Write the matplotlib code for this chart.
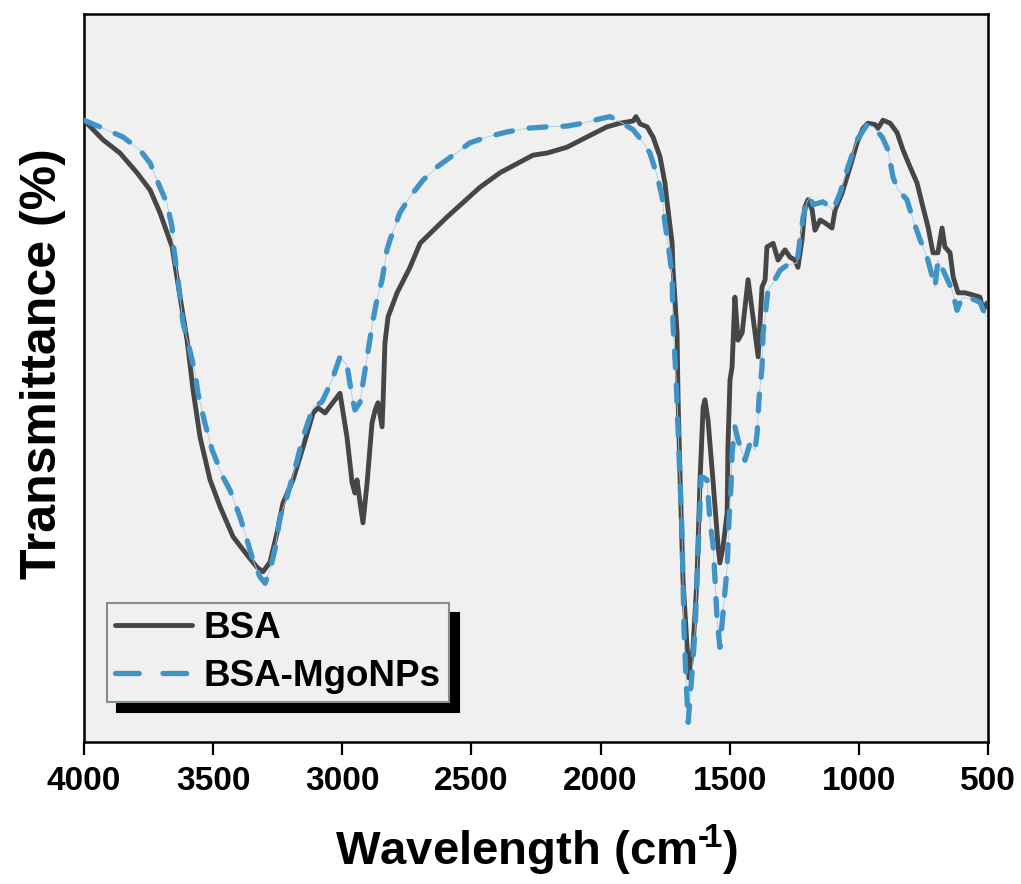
import numpy as np
import matplotlib
matplotlib.use("Agg")
import matplotlib.pyplot as plt

plt.rcParams['font.family'] = ['Liberation Sans', 'DejaVu Sans']
plt.rcParams['font.weight'] = 'bold'
plt.rcParams['mathtext.fontset'] = 'custom'
plt.rcParams['mathtext.rm'] = 'Liberation Sans:bold'
plt.rcParams['mathtext.bf'] = 'Liberation Sans:bold'

# BSA spectrum (wavenumber cm-1, transmittance a.u.)
bsa_wn = [4000, 3926, 3861, 3795, 3744, 3706, 3659, 3628, 3601, 3578, 3551,
          3512, 3473, 3423, 3369, 3330, 3307, 3280, 3253, 3230, 3191, 3152,
          3113, 3094, 3067, 3020, 3009, 2982, 2962, 2951, 2943, 2931, 2920,
          2904, 2885, 2873, 2862, 2846, 2842, 2835, 2823, 2788, 2738, 2699,
          2595, 2467, 2389, 2262, 2207, 2130, 2053, 1975, 1925, 1874, 1863,
          1847, 1820, 1797, 1770, 1751, 1739, 1723, 1720, 1704, 1700, 1692,
          1681, 1665, 1658, 1642, 1627, 1615, 1603, 1596, 1584, 1565, 1545,
          1538, 1526, 1510, 1507, 1499, 1491, 1480, 1468, 1452, 1429, 1410,
          1390, 1375, 1363, 1356, 1332, 1313, 1286, 1267, 1247, 1236, 1220,
          1209, 1197, 1181, 1170, 1150, 1131, 1104, 1092, 1065, 1034, 1007,
          984, 965, 937, 926, 907, 879, 852, 829, 802, 775, 752, 732, 713,
          694, 678, 667, 647, 635, 616, 589, 558, 531, 519, 504]
bsa_t = [85.4, 82.7, 80.9, 78.2, 75.8, 72.7, 68.0, 61.1, 55.2, 48.4, 41.9,
         36.0, 32.3, 28.2, 25.7, 24.0, 23.4, 24.7, 28.7, 32.8, 36.0, 40.5,
         45.2, 45.9, 45.2, 47.4, 47.9, 41.9, 35.6, 34.2, 36.0, 32.8, 30.1,
         35.6, 43.8, 45.6, 46.6, 43.3, 47.0, 54.8, 58.4, 61.7, 65.2, 68.5,
         72.1, 76.2, 78.2, 80.6, 80.9, 81.7, 83.1, 84.5, 85.0, 85.3, 85.9,
         84.9, 84.5, 83.1, 80.4, 76.8, 73.1, 68.5, 65.2, 56.2, 47.0, 36.0,
         22.3, 13.0, 8.8, 13.0, 22.3, 36.0, 46.0, 47.0, 44.2, 36.0, 26.8,
         24.6, 26.8, 31.5, 40.5, 49.7, 51.5, 61.1, 55.2, 56.2, 63.5, 58.4,
         52.9, 62.5, 63.5, 68.0, 68.5, 66.2, 67.6, 66.6, 66.2, 65.2, 69.0,
         73.5, 74.5, 73.1, 70.3, 71.7, 71.3, 70.6, 73.1, 75.4, 79.0, 82.3,
         84.3, 85.0, 84.8, 84.3, 85.4, 85.0, 83.7, 81.3, 79.0, 76.8, 73.5,
         70.7, 67.2, 67.2, 70.6, 68.0, 67.2, 63.9, 61.7, 61.7, 61.4, 61.1,
         59.3, 60.3]

# BSA-MgO NPs spectrum
np_wn = [4000, 3926, 3849, 3783, 3744, 3706, 3679, 3659, 3655, 3636, 3617,
         3597, 3570, 3559, 3532, 3504, 3462, 3435, 3396, 3377, 3346, 3319,
         3299, 3280, 3261, 3241, 3214, 3175, 3152, 3113, 3079, 3040, 3009,
         2982, 2962, 2951, 2931, 2920, 2900, 2881, 2866, 2846, 2827, 2815,
         2777, 2738, 2687, 2633, 2571, 2506, 2440, 2362, 2285, 2207, 2130,
         2068, 2002, 1963, 1925, 1874, 1836, 1809, 1782, 1762, 1751, 1739,
         1723, 1720, 1708, 1700, 1692, 1685, 1681, 1677, 1669, 1661, 1646,
         1634, 1627, 1619, 1611, 1600, 1588, 1576, 1565, 1557, 1549, 1538,
         1526, 1510, 1503, 1495, 1491, 1480, 1468, 1441, 1421, 1402, 1394,
         1387, 1375, 1371, 1363, 1352, 1332, 1305, 1278, 1240, 1228, 1216,
         1201, 1189, 1178, 1139, 1100, 1073, 1042, 1007, 968, 945, 910, 887,
         868, 848, 814, 790, 763, 736, 705, 694, 674, 639, 620, 601, 570,
         531, 504]
np_t = [85.4, 84.3, 83.1, 81.3, 79.5, 76.2, 74.0, 70.7, 68.5, 63.5, 57.6,
        54.8, 50.7, 47.9, 43.8, 40.1, 36.4, 34.6, 30.9, 28.7, 25.0, 22.7,
        21.8, 23.6, 26.4, 30.9, 33.7, 38.7, 41.9, 46.0, 46.7, 49.7, 52.9,
        51.8, 47.4, 45.6, 46.7, 49.3, 53.8, 58.0, 60.7, 63.5, 67.6, 69.0,
        72.7, 74.9, 77.2, 79.0, 80.6, 82.3, 83.1, 83.8, 84.3, 84.5, 84.6,
        85.0, 85.6, 85.9, 85.2, 84.1, 82.4, 80.9, 77.9, 74.9, 71.3, 68.5,
        64.1, 57.6, 50.1, 42.9, 36.0, 29.1, 22.3, 15.4, 8.5, 2.7, 9.5,
        15.4, 22.3, 29.1, 36.4, 36.3, 36.0, 30.1, 27.3, 22.3, 16.8, 13.0,
        17.7, 24.0, 30.5, 35.0, 39.7, 43.3, 41.5, 38.7, 41.1, 40.1, 42.4,
        47.0, 51.5, 56.2, 58.4, 62.1, 63.1, 64.8, 65.5, 65.8, 69.0, 72.1,
        74.2, 74.9, 73.8, 74.2, 73.1, 75.4, 79.0, 82.7, 84.8, 84.5, 83.1,
        81.3, 77.6, 75.8, 74.5, 71.7, 69.0, 66.6, 62.5, 66.2, 64.8, 62.1,
        59.3, 61.0, 61.0, 60.4, 58.2]

xticks = [4000, 3500, 3000, 2500, 2000, 1500, 1000, 500]

fig = plt.figure(figsize=(10.21, 8.84), dpi=100)
ax = fig.add_axes([0.0823, 0.1606, 0.8854, 0.8236])
ax.set_facecolor('#f0f0f0')

ax.plot(bsa_wn, bsa_t, color='#464646', lw=3.5, solid_joinstyle='round',
        solid_capstyle='round', label='BSA', zorder=3)
# thin guide line under the dashes
ax.plot(np_wn, np_t, color='#a9cde6', lw=0.6, zorder=3.5)
ax.plot(np_wn, np_t, color='#3f93c6', lw=3.8, dashes=(3.2, 3.2),
        dash_capstyle='round', label='BSA-MgoNPs', zorder=4)

ax.set_xlim(4000, 500)
ax.set_ylim(0, 100)
ax.set_xticks(xticks)
ax.set_yticks([])
ax.tick_params(axis='x', direction='out', length=9, width=1.6, pad=8,
               labelsize=24)
for lab in ax.get_xticklabels():
    lab.set_fontweight('bold')
for s in ax.spines.values():
    s.set_linewidth(1.8)
    s.set_color('black')

ax.set_xlabel('Wavelength (cm$^{\u2010\\!1}$)', fontsize=34, fontweight='bold',
              labelpad=19)
ax.set_ylabel('Transmittance (%)', fontsize=36, fontweight='bold')
ax.yaxis.set_label_coords(-0.02, 0.52)

leg = ax.legend(loc='lower left', bbox_to_anchor=(0.0254, 0.055),
                borderaxespad=0, fontsize=26.5, frameon=True, fancybox=False,
                handlelength=2.1, handletextpad=0.3, borderpad=0.22,
                labelspacing=0.35,
                shadow={'ox': 7.2, 'oy': -7.2, 'color': 'black', 'alpha': 1})
leg.get_frame().set_facecolor('#f0f0f0')
leg.get_frame().set_edgecolor('#8c8c8c')
leg.get_frame().set_linewidth(1.5)
leg.get_frame().set_alpha(1)
for t in leg.get_texts():
    t.set_fontweight('bold')
leg.get_lines()[1].set_dashes((4.5, 4.5))

fig.savefig('out.png', dpi=100)
